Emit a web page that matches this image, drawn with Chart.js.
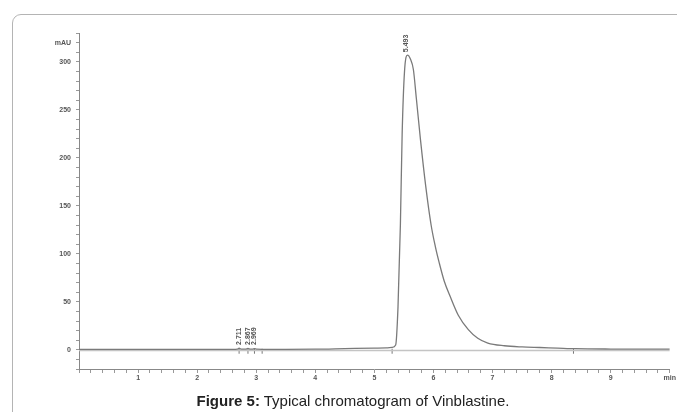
<!DOCTYPE html>
<html>
<head>
<meta charset="utf-8">
<script src="https://cdn.jsdelivr.net/npm/chart.js@4"></script>
<style>
  html, body { margin: 0; padding: 0; background: #fff; }
  #wrap { position: relative; width: 677px; height: 412px; overflow: hidden; }
  #chart { position: absolute; left: 0; top: 0; }
  .frame {
    position: absolute; left: 12px; top: 14px; width: 720px; height: 430px;
    border: 1.5px solid #b4b4b4; border-radius: 9px; pointer-events: none;
  }
  .caption {
    position: absolute; left: 0; width: 706px; top: 392px; text-align: center;
    font-family: "Liberation Sans", Arial, sans-serif; font-size: 15px; color: #222;
  }
</style>
</head>
<body>
<div id="wrap">
  <canvas id="chart" width="677" height="412"></canvas>
  <div class="frame"></div>
  <div class="caption"><b>Figure 5:</b> Typical chromatogram of Vinblastine.</div>
</div>
<script>
"use strict";

// retention time (min) and detector signal (mAU)
const times = [0, 1.0, 2.0, 2.6, 2.68, 2.71, 2.75, 2.82, 2.86, 2.9, 2.94, 2.97, 3.01, 3.1, 3.5, 4.0, 4.5, 5.0, 5.2, 5.3,
  5.36, 5.40, 5.44, 5.47, 5.51, 5.56, 5.61, 5.66, 5.71, 5.78, 5.87, 5.96, 6.03, 6.1, 6.18, 6.28, 6.42, 6.59, 6.75, 6.92,
  7.2, 7.5, 7.8, 8.1, 8.4, 9.0, 10];
const signal = [0.4, 0.4, 0.4, 0.4, 0.6, 1.6, 0.6, 0.6, 1.4, 0.6, 0.6, 1.3, 0.6, 0.5, 0.5, 0.6, 1.2, 1.8, 2.0, 2.6,
  5, 45, 130, 225, 290, 307, 303, 292, 262, 219, 170, 130, 108, 90, 72, 56, 36, 21, 12, 7,
  4.2, 3.0, 2.4, 1.8, 1.2, 0.8, 0.6];

// integration baseline
const baseTimes = [0, 10];
const baseValues = [-0.6, -0.6];

// integration event marks
const markTimes = [2.71, 2.86, 2.97, 3.1, 5.3, 8.37];

// peak annotations
const peakTimes = [2.71, 2.86, 2.97, 5.54];
const peakHeights = [4, 4, 4, 309];
const peakNames = ["2.711", "2.867", "2.969", "5.493"];

// axis ticks
const xMin = 0, xMax = 10, xStep = 0.2;
const yMin = -20, yMax = 330, yStep = 10;
const yLabelled = [0, 50, 100, 150, 200, 250, 300];
const yUnitAt = 320;

const toPoints = (xs, ys) => xs.map((x, i) => ({ x, y: ys[i] }));

const peakLabels = {
  id: "peakLabels",
  afterDatasetsDraw(chart) {
    const { ctx, scales: { x, y } } = chart;
    ctx.save();
    ctx.font = "bold 7px 'Liberation Sans', sans-serif";
    ctx.fillStyle = "#555";
    ctx.textAlign = "left";
    ctx.textBaseline = "middle";
    peakTimes.forEach((t, i) => {
      ctx.save();
      ctx.translate(x.getPixelForValue(t), y.getPixelForValue(peakHeights[i]) - 1);
      ctx.rotate(-Math.PI / 2);
      ctx.fillText(peakNames[i], 0, 0);
      ctx.restore();
    });
    ctx.restore();
  }
};

Chart.defaults.font.family = "'Liberation Sans', sans-serif";
Chart.defaults.animation = false;

new Chart(document.getElementById("chart"), {
  type: "line",
  data: {
    datasets: [
      {
        label: "signal",
        data: toPoints(times, signal),
        borderColor: "#7a7a7a",
        borderWidth: 1.3,
        pointRadius: 0,
        cubicInterpolationMode: "monotone",
      },
      {
        label: "baseline",
        data: toPoints(baseTimes, baseValues),
        borderColor: "#c4c4c4",
        borderWidth: 1.5,
        pointRadius: 0,
      },
      {
        label: "marks",
        data: markTimes.map(t => ({ x: t, y: -1.5 })),
        showLine: false,
        pointStyle: "line",
        rotation: 90,
        pointRadius: 2.5,
        borderColor: "#777",
        borderWidth: 1,
      },
    ],
  },
  options: {
    responsive: false,
    layout: { padding: { left: 0, top: 33, right: 5, bottom: 0 } },
    plugins: { legend: { display: false }, tooltip: { enabled: false } },
    scales: {
      x: {
        type: "linear",
        min: xMin,
        max: xMax,
        afterFit: s => { s.height = 43; },
        border: { color: "#888", width: 1 },
        grid: { drawOnChartArea: false, color: "#999", tickLength: 4 },
        ticks: {
          stepSize: xStep,
          autoSkip: false,
          maxRotation: 0,
          padding: 1,
          color: "#555",
          font: { size: 7, weight: "bold" },
          callback: v => {
            const r = Math.round(v);
            if (Math.abs(v - r) > 1e-6 || r === 0) return "";
            return r === xMax ? "min" : String(r);
          },
        },
      },
      y: {
        min: yMin,
        max: yMax,
        afterFit: s => { s.width = 79; },
        border: { color: "#888", width: 1 },
        grid: { drawOnChartArea: false, color: "#999", tickLength: 3 },
        ticks: {
          stepSize: yStep,
          autoSkip: false,
          padding: 5,
          color: "#555",
          font: { size: 7, weight: "bold" },
          callback: v => v === yUnitAt ? "mAU" : (yLabelled.includes(v) ? String(v) : ""),
        },
      },
    },
  },
  plugins: [peakLabels],
});
</script>
</body>
</html>
